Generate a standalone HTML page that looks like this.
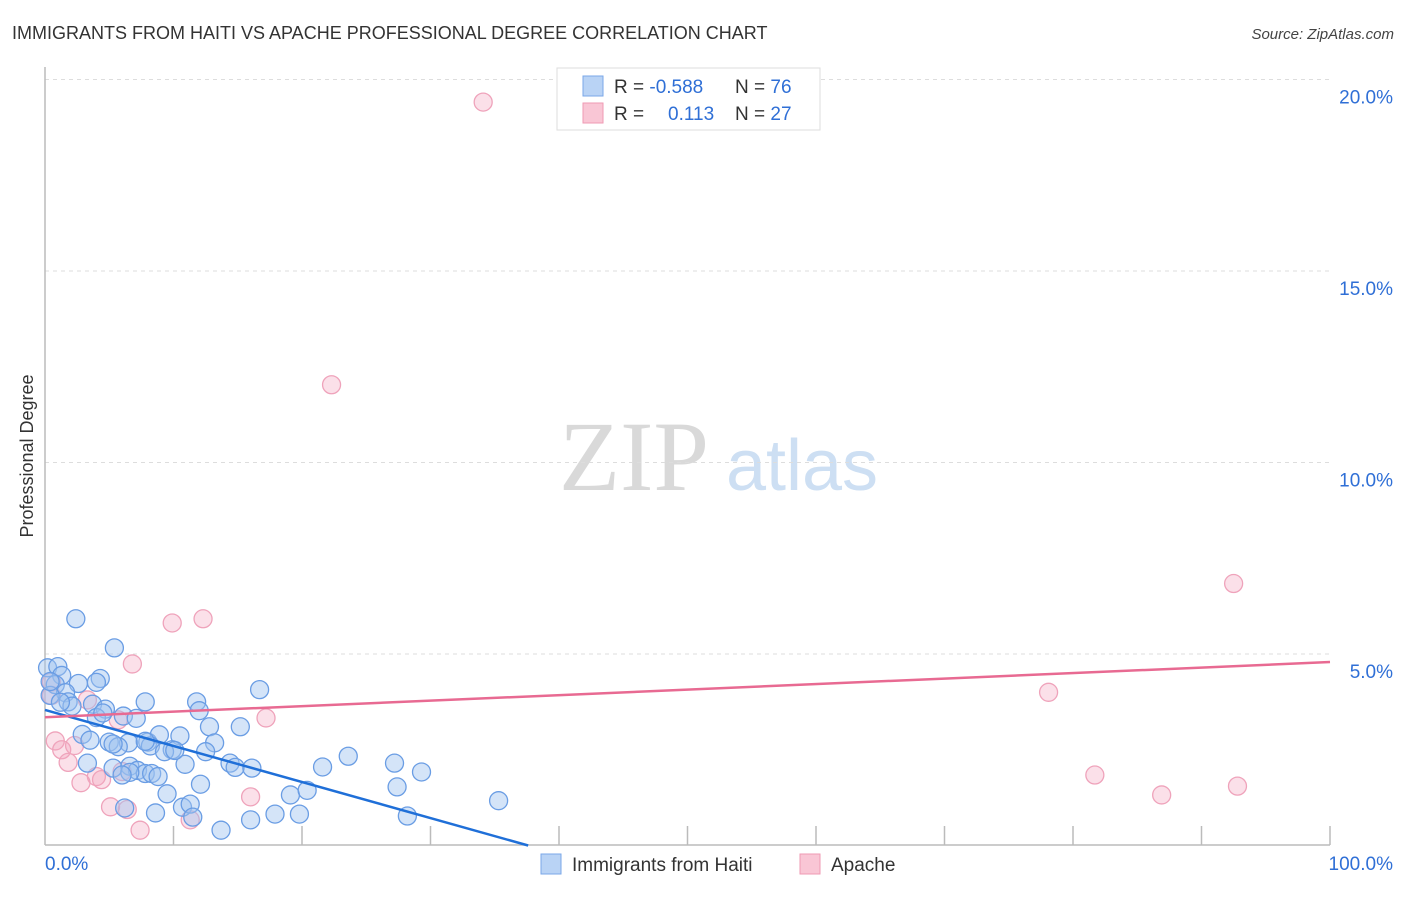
<!DOCTYPE html>
<html><head><meta charset="utf-8"><style>
body{margin:0;background:#fff;font-family:"Liberation Sans",sans-serif;}
</style></head><body>
<svg id="chart" width="1406" height="892" style="font-family:'Liberation Sans',sans-serif">
<text x="12" y="39" font-size="18" fill="#333">IMMIGRANTS FROM HAITI VS APACHE PROFESSIONAL DEGREE CORRELATION CHART</text>
<text x="1394" y="39" font-size="15" fill="#444" text-anchor="end" font-style="italic">Source: ZipAtlas.com</text>
<text transform="translate(33,456) rotate(-90)" font-size="18" fill="#333" text-anchor="middle">Professional Degree</text>
<g>
<text x="634" y="490" font-size="100" fill="#d9d9d9" style="font-family:'Liberation Serif',serif" text-anchor="middle">ZIP</text>
<text x="802" y="490" font-size="72" fill="#cddff3" text-anchor="middle">atlas</text>
</g>
<g id="grid"></g>
<g id="axes"></g>
<g id="marks"></g>
<g>
<rect x="557" y="68" width="263" height="62" fill="#fff" stroke="#ddd"/>
<rect x="583" y="76" width="20" height="20" fill="#b9d3f5" stroke="#7aa7e8"/>
<rect x="583" y="103" width="20" height="20" fill="#f9c6d5" stroke="#ef9ab3"/>
<text x="614" y="93" font-size="19" fill="#333">R = <tspan fill="#2f6fd6">-0.588</tspan></text>
<text x="735" y="93" font-size="19" fill="#333">N = <tspan fill="#2f6fd6">76</tspan></text>
<text x="614" y="120" font-size="19" fill="#333">R = </text>
<text x="668" y="120" font-size="19" fill="#2f6fd6">0.113</text>
<text x="735" y="120" font-size="19" fill="#333">N = <tspan fill="#2f6fd6">27</tspan></text>
</g>
<g>
<rect x="541" y="854" width="20" height="20" fill="#b9d3f5" stroke="#7aa7e8"/>
<text x="572" y="871" font-size="19" fill="#333">Immigrants from Haiti</text>
<rect x="800" y="854" width="20" height="20" fill="#f9c6d5" stroke="#ef9ab3"/>
<text x="831" y="871" font-size="19" fill="#333">Apache</text>
</g>
</svg>
<script>
const yTicks=[5,10,15,20];
const yTickLabels=["5.0%","10.0%","15.0%","20.0%"];
const xTicks=[10,20,30,40,50,60,70,80,90,100];
const blueX=[2.4,5.4,0.2,1.0,1.3,0.8,4.3,4.0,2.6,1.6,7.8,11.8,16.7,1.8,3.7,4.7,2.1,12.0,6.1,7.1,4.0,15.2,12.8,2.9,5.0,6.5,8.0,8.9,10.5,3.5,13.2,8.2,9.9,9.3,12.5,5.7,3.3,5.3,6.6,7.2,7.8,8.3,8.8,10.9,14.4,14.8,16.1,21.6,23.6,27.2,29.3,9.5,12.1,6.6,19.1,20.4,27.4,10.7,11.3,8.6,6.2,11.5,13.7,16.0,17.9,19.8,28.2,35.3,7.8,4.5,0.4,5.3,10.1,6.0,1.2,0.4];
const blueY=[5.92,5.16,4.64,4.67,4.44,4.20,4.36,4.26,4.23,3.99,3.75,3.75,4.07,3.75,3.69,3.56,3.64,3.52,3.38,3.32,3.34,3.10,3.10,2.90,2.70,2.68,2.70,2.89,2.86,2.75,2.68,2.60,2.50,2.45,2.45,2.58,2.15,2.02,2.07,1.96,1.88,1.88,1.80,2.12,2.15,2.04,2.02,2.05,2.33,2.15,1.92,1.35,1.60,1.91,1.32,1.44,1.53,1.00,1.08,0.85,0.98,0.74,0.40,0.67,0.82,0.82,0.77,1.17,2.72,3.46,3.92,2.65,2.48,1.84,3.74,4.28];
const pinkX=[34.1,22.3,9.9,12.3,6.8,0.5,3.3,5.7,17.2,92.5,78.1,0.8,1.3,2.3,1.8,4.0,2.8,4.4,6.0,5.1,6.4,16.0,7.4,11.3,81.7,86.9,92.8,0.5];
const pinkY=[19.41,12.03,5.81,5.92,4.74,4.27,3.80,3.28,3.33,6.84,4.00,2.73,2.50,2.61,2.17,1.80,1.64,1.72,1.93,1.01,0.94,1.27,0.40,0.67,1.84,1.32,1.55,3.92];
const blueTrend=[3.54,0];const blueTrendX=[0,37.6];
const pinkTrend=[3.35,4.79];const pinkTrendX=[0,100];
const NS="http://www.w3.org/2000/svg";
const X=v=>45+v*12.85, Y=v=>845.5-v*38.3;
function mk(tag,attrs,parent){const e=document.createElementNS(NS,tag);for(const k in attrs)e.setAttribute(k,attrs[k]);document.getElementById(parent).appendChild(e);return e;}
yTicks.forEach((t,i)=>{
 const g=mk('line',{x1:45,x2:1330,y1:Y(t),y2:Y(t),stroke:'#ddd','stroke-dasharray':'4,4'},'grid');
 
 
 const l=mk('text',{x:1393,y:Y(t)+24,'font-size':19,fill:'#2f6fd6','text-anchor':'end'},'axes');l.textContent=yTickLabels[i];
 
 
});
const ya=mk('line',{x1:45,x2:45,y1:67,y2:845,stroke:'#bbb','stroke-width':1.5},'axes');


const xa=mk('line',{x1:45,x2:1330,y1:845,y2:845,stroke:'#bbb','stroke-width':1.5},'axes');


xTicks.forEach(t=>{const e=mk('line',{x1:X(t),x2:X(t),y1:826,y2:845,stroke:'#bbb','stroke-width':1.5},'axes');
 
 });
const x0=mk('text',{x:45,y:870,'font-size':19,fill:'#2f6fd6'},'axes');x0.textContent='0.0%';


const x1=mk('text',{x:1393,y:870,'font-size':19,fill:'#2f6fd6','text-anchor':'end'},'axes');x1.textContent='100.0%';


pinkX.forEach((v,i)=>{const c=mk('circle',{cx:X(v),cy:Y(pinkY[i]),r:9,fill:'rgba(244,167,192,0.35)',stroke:'#efa3bb','stroke-width':1.3},'marks');
 
 });
blueX.forEach((v,i)=>{const c=mk('circle',{cx:X(v),cy:Y(blueY[i]),r:9,fill:'rgba(160,195,240,0.45)',stroke:'#6a9de4','stroke-width':1.3},'marks');
 
 });
const bl=mk('line',{x1:X(blueTrendX[0]),y1:Y(blueTrend[0]),x2:X(blueTrendX[1]),y2:Y(blueTrend[1]),stroke:'#1f6fd8','stroke-width':2.5},'marks');


const pl=mk('line',{x1:X(pinkTrendX[0]),y1:Y(pinkTrend[0]),x2:X(pinkTrendX[1]),y2:Y(pinkTrend[1]),stroke:'#e86a92','stroke-width':2.5},'marks');


</script>
</body></html>
